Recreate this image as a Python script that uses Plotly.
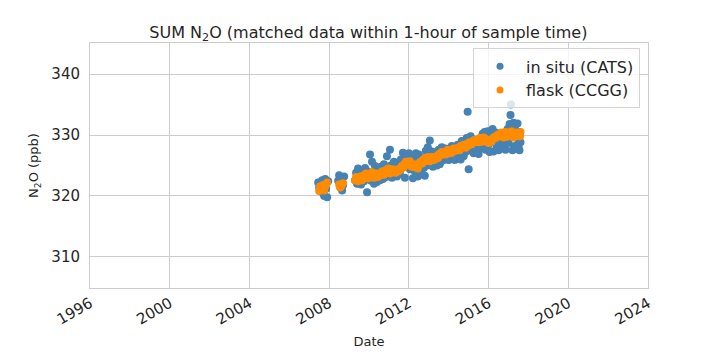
import plotly.graph_objects as go
import pandas as pd

# ---- data (decimal years, ppb) ----
insitu_year = [
    2007.45, 2007.50, 2007.55, 2007.60, 2007.65, 2007.70, 2007.75, 2007.80, 2007.85, 2007.90, 2007.95,
    2008.45, 2008.50, 2008.55, 2008.60, 2008.65, 2008.70, 2008.75,
    2009.30, 2009.35, 2009.40, 2009.45, 2009.50, 2009.55, 2009.60, 2009.65, 2009.70, 2009.75,
    2009.80, 2009.85, 2009.90, 2009.95, 2010.00, 2010.05, 2010.10, 2010.15, 2010.20, 2010.25,
    2010.30, 2010.35, 2010.40, 2010.45, 2010.50, 2010.55, 2010.60, 2010.65, 2010.70, 2010.75,
    2010.80, 2010.85, 2010.90, 2010.95, 2011.00, 2011.05, 2011.10, 2011.15, 2011.20, 2011.25,
    2011.30, 2011.35, 2011.40, 2011.45, 2011.50, 2011.55, 2011.60, 2011.65, 2011.70, 2011.75,
    2011.80, 2011.85, 2011.90, 2011.95, 2012.00, 2012.05, 2012.10, 2012.15, 2012.20, 2012.25,
    2012.30, 2012.35, 2012.40, 2012.45, 2012.50, 2012.55, 2012.60, 2012.65, 2012.70, 2012.75,
    2012.80, 2012.85, 2012.90, 2012.95, 2013.00, 2013.05, 2013.10, 2013.15, 2013.20, 2013.25,
    2013.30, 2013.35, 2013.40, 2013.45, 2013.50, 2013.55, 2013.60, 2013.65, 2013.70, 2013.75,
    2013.80, 2013.85, 2013.90, 2013.95, 2014.00, 2014.05, 2014.10, 2014.15, 2014.20, 2014.25,
    2014.30, 2014.35, 2014.40, 2014.45, 2014.50, 2014.55, 2014.60, 2014.65, 2014.70, 2014.75,
    2014.80, 2014.85, 2014.90, 2014.95, 2015.00, 2015.05, 2015.10, 2015.15, 2015.20, 2015.25,
    2015.30, 2015.35, 2015.40, 2015.45, 2015.50, 2015.55, 2015.60, 2015.65, 2015.70, 2015.75,
    2015.80, 2015.85, 2015.90, 2015.95, 2016.00, 2016.05, 2016.10, 2016.15, 2016.20, 2016.25,
    2016.30, 2016.35, 2016.40, 2016.45, 2016.50, 2016.55, 2016.60, 2016.65, 2016.70, 2016.75,
    2016.80, 2016.85, 2016.90, 2016.95, 2017.00, 2017.05, 2017.10, 2017.12, 2017.15, 2017.20,
    2017.25, 2017.30, 2017.35, 2017.40, 2017.45, 2017.50, 2017.55, 2017.60, 2017.50, 2017.55,
    2017.30,
]
insitu_n2o = [
    322.2, 321.4, 320.8, 321.9, 322.6, 320.4, 320.0, 322.8, 321.2, 319.8, 322.4,
    322.5, 323.4, 321.5, 322.9, 320.9, 321.8, 323.2,
    322.6, 323.8, 322.0, 324.5, 322.8, 323.3, 321.9, 324.2, 323.0, 322.4,
    324.6, 323.5, 320.6, 324.0, 323.2, 326.8, 322.5, 325.6, 323.8, 322.0,
    324.9, 323.4, 322.3, 324.3, 323.0, 322.6, 324.8, 323.6, 322.8, 325.2,
    324.0, 323.1, 326.5, 324.4, 323.5, 327.6, 325.0, 323.0, 324.6, 325.6,
    323.4, 324.9, 323.2, 325.3, 324.0, 323.6, 326.0, 324.6, 327.1, 325.2,
    323.0, 326.4, 324.8, 325.9, 327.0, 324.4, 326.6, 325.4, 322.9, 326.0,
    324.0, 327.0, 325.5, 323.2, 326.8, 324.2, 325.8, 323.6, 326.2, 324.6,
    323.3, 327.4, 325.0, 328.0, 326.6, 329.1, 325.3, 327.3, 324.8, 326.9,
    325.5, 327.2, 325.0, 326.5, 327.6, 325.2, 326.8, 328.0, 325.8, 327.2,
    326.0, 327.8, 326.4, 327.0, 325.9, 327.4, 326.2, 328.2, 326.6, 327.0,
    325.9, 327.5, 326.3, 328.4, 326.8, 327.3, 326.0, 329.0, 327.6, 326.5,
    328.8, 327.2, 329.5, 333.8, 324.4, 328.3, 329.8, 327.4, 328.6, 327.0,
    329.2, 328.0, 327.6, 329.0, 326.9, 328.5, 327.8, 329.4, 330.2, 328.2,
    330.5, 327.6, 329.6, 330.6, 328.4, 327.2, 330.1, 328.9, 331.0, 327.3,
    329.5, 330.4, 328.0, 329.1, 327.5, 330.0, 328.6, 327.8, 329.8, 328.3,
    330.3, 327.6, 329.2, 331.0, 328.7, 331.8, 333.3, 335.0, 330.6, 327.5,
    332.0, 328.2, 330.8, 327.8, 331.9, 329.0, 327.5, 328.8, 328.2, 330.5,
    331.4,
]

flask_year = [
    2007.50, 2007.60, 2007.70, 2007.80, 2007.90,
    2008.50, 2008.60, 2008.70,
    2009.30, 2009.40, 2009.50, 2009.60, 2009.70, 2009.80, 2009.90, 2010.00, 2010.10, 2010.20,
    2010.30, 2010.40, 2010.50, 2010.60, 2010.70, 2010.80, 2010.90, 2011.00, 2011.10, 2011.20,
    2011.30, 2011.40, 2011.50, 2011.60, 2011.70, 2011.80, 2011.90, 2012.00, 2012.10, 2012.20,
    2012.30, 2012.40, 2012.50, 2012.60, 2012.70, 2012.80, 2012.90, 2013.00, 2013.10, 2013.20,
    2013.30, 2013.40, 2013.50, 2013.60, 2013.70, 2013.80, 2013.90, 2014.00, 2014.10, 2014.20,
    2014.30, 2014.40, 2014.50, 2014.60, 2014.70, 2014.80, 2014.90, 2015.00, 2015.10, 2015.20,
    2015.30, 2015.40, 2015.50, 2015.60, 2015.70, 2015.80, 2015.90, 2016.00, 2016.10, 2016.20,
    2016.30, 2016.40, 2016.50, 2016.60, 2016.70, 2016.80, 2016.90, 2017.00, 2017.10, 2017.20,
    2017.30, 2017.40, 2017.50, 2017.55, 2017.60,
    # second sampling at intermediate dates
    2007.55, 2007.75, 2008.55, 2008.65,
    2009.35, 2009.45, 2009.55, 2009.65, 2009.75, 2009.85, 2009.95, 2010.05, 2010.15, 2010.25,
    2010.35, 2010.45, 2010.55, 2010.65, 2010.75, 2010.85, 2010.95, 2011.05, 2011.15, 2011.25,
    2011.35, 2011.45, 2011.55, 2011.65, 2011.75, 2011.85, 2011.95, 2012.05, 2012.15, 2012.25,
    2012.35, 2012.45, 2012.55, 2012.65, 2012.75, 2012.85, 2012.95, 2013.05, 2013.15, 2013.25,
    2013.35, 2013.45, 2013.55, 2013.65, 2013.75, 2013.85, 2013.95, 2014.05, 2014.15, 2014.25,
    2014.35, 2014.45, 2014.55, 2014.65, 2014.75, 2014.85, 2014.95, 2015.05, 2015.15, 2015.25,
    2015.35, 2015.45, 2015.55, 2015.65, 2015.75, 2015.85, 2015.95, 2016.05, 2016.15, 2016.25,
    2016.35, 2016.45, 2016.55, 2016.65, 2016.75, 2016.85, 2016.95, 2017.05, 2017.15, 2017.25,
    2017.35, 2017.45, 2017.58,
]
flask_n2o = [
    320.8, 321.3, 321.8, 321.5, 322.2,
    321.9, 321.6, 322.1,
    322.6, 322.8, 322.7, 323.0, 323.3, 323.1, 323.4, 323.6, 323.3, 323.5,
    323.2, 323.4, 323.7, 323.5, 323.9, 324.2, 324.0, 324.3, 324.1, 323.9,
    324.2, 324.0, 324.1, 324.6, 325.0, 325.3, 325.6, 325.4, 325.1, 324.9,
    324.7, 324.9, 325.2, 325.6, 325.9, 326.2, 326.0, 325.8, 326.0, 326.3,
    326.1, 326.5, 326.8, 327.0, 326.8, 327.1, 327.3, 327.5, 327.2, 327.4,
    327.7, 327.6, 327.9, 328.2, 328.0, 328.3, 328.5, 328.3, 328.6, 328.9,
    329.2, 329.0, 328.8, 329.1, 329.4, 329.2, 328.9, 328.7, 329.0, 329.3,
    329.6, 329.9, 330.1, 329.8, 330.2, 330.0, 329.7, 330.3, 329.9, 330.4,
    330.0, 330.4, 329.8, 330.2, 330.5,
    321.6, 320.9, 321.4, 322.0,
    323.1, 322.4, 323.2, 322.6, 323.0, 323.7, 322.9, 323.2, 323.9, 323.0,
    323.7, 323.1, 323.4, 324.0, 323.5, 323.8, 324.5, 323.7, 324.4, 324.3,
    323.8, 324.4, 324.3, 324.9, 324.7, 325.6, 325.1, 325.7, 324.8, 325.2,
    324.9, 324.5, 325.5, 325.3, 325.6, 325.9, 326.4, 325.7, 326.4, 325.9,
    326.4, 326.2, 326.6, 327.2, 327.0, 326.8, 327.6, 327.0, 327.1, 327.8,
    327.4, 327.9, 327.5, 328.1, 328.4, 327.9, 328.6, 328.8, 328.5, 329.1,
    328.8, 329.3, 329.5, 328.9, 329.6, 329.4, 329.0, 329.2, 328.9, 329.6,
    329.5, 329.7, 330.0, 330.4, 329.6, 330.5, 329.9, 330.1, 330.6, 329.6,
    330.3, 329.9, 329.8,
]

x_range = ["1996-01-01", "2024-01-01"]
y_range = [304.9, 345.1]
y_ticks = [310, 320, 330, 340]

BLUE = "#4682b4"
ORANGE = "#ff8c00"


def to_date(yrs):
    out = []
    for y in yrs:
        yi = int(y)
        start = pd.Timestamp(year=yi, month=1, day=1)
        end = pd.Timestamp(year=yi + 1, month=1, day=1)
        out.append(start + (end - start) * (y - yi))
    return out


fig = go.Figure()
fig.add_trace(go.Scatter(
    x=to_date(insitu_year), y=insitu_n2o, mode="markers", name="in situ (CATS)",
    marker=dict(color=BLUE, size=8, line=dict(width=0)), showlegend=False,
))
fig.add_trace(go.Scatter(
    x=to_date(flask_year), y=flask_n2o, mode="markers", name="flask (CCGG)",
    marker=dict(color=ORANGE, size=8, line=dict(width=0)), showlegend=False,
))
# legend entries (small symbols, like the reference)
fig.add_trace(go.Scatter(x=[None], y=[None], mode="markers", name="in situ (CATS)",
                         marker=dict(color=BLUE, size=7)))
fig.add_trace(go.Scatter(x=[None], y=[None], mode="markers", name="flask (CCGG)",
                         marker=dict(color=ORANGE, size=7)))

fig.update_layout(
    width=720, height=360,
    margin=dict(l=82, r=80, t=35, b=80),
    paper_bgcolor="white", plot_bgcolor="white",
    font=dict(family="DejaVu Sans", color="#262626"),
    title=dict(text="SUM N<sub>2</sub>O (matched data within 1-hour of sample time)",
               x=0.5005, xanchor="center", y=0.933, yanchor="middle",
               font=dict(size=16, color="#262626")),
    legend=dict(x=0.9857, y=0.978, xanchor="right", yanchor="top",
                bgcolor="rgba(255,255,255,0.8)", bordercolor="#d4d4d4", borderwidth=1,
                font=dict(size=16, color="#262626"), itemwidth=42),
    showlegend=True,
)
fig.update_xaxes(
    type="date", range=x_range, tick0="1996-01-01", dtick="M48", tickformat="%Y",
    tickangle=-30, tickfont=dict(size=15, color="#262626"), automargin=False,
    showgrid=True, gridcolor="#cccccc", gridwidth=1,
    showline=True, linecolor="#cccccc", linewidth=1, mirror=True, zeroline=False,
    title=dict(text="Date", font=dict(size=13), standoff=9),
)
fig.update_yaxes(
    range=y_range, tickvals=y_ticks, automargin=False,
    tickfont=dict(size=15, color="#262626"),
    showgrid=True, gridcolor="#cccccc", gridwidth=1,
    showline=True, linecolor="#cccccc", linewidth=1, mirror=True, zeroline=False,
    ticks="outside", ticklen=6, tickcolor="white",
    title=dict(text="N<sub>2</sub>O (ppb)", font=dict(size=13), standoff=9),
)

fig.write_html("out.html")
